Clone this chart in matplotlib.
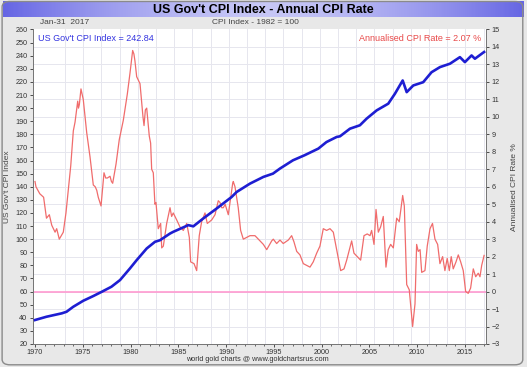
import numpy as np
import matplotlib
matplotlib.use("Agg")
import matplotlib.pyplot as plt
from matplotlib.patches import FancyBboxPatch
from matplotlib.ticker import MultipleLocator

plt.rcParams['font.family'] = ['Liberation Sans', 'DejaVu Sans']

# annual CPI rate (%)
rate_years = [1970.0, 1970.1, 1970.5, 1970.9, 1971.2, 1971.5, 1971.75, 1972.1, 1972.27, 1972.54,
              1972.96, 1973.24, 1973.59, 1973.74, 1974.01, 1974.19, 1974.4, 1974.47, 1974.55, 1974.64,
              1974.81, 1975.05, 1975.2, 1975.41, 1975.76, 1976.1, 1976.3, 1976.46, 1976.62, 1976.91,
              1977.22, 1977.4, 1977.57, 1977.85, 1978.0, 1978.13, 1978.48, 1978.82, 1979.24, 1979.66,
              1979.94, 1980.22, 1980.35, 1980.46, 1980.64, 1980.99, 1981.3, 1981.41, 1981.55, 1981.69,
              1981.96, 1982.1, 1982.21, 1982.38, 1982.55, 1982.66, 1982.9, 1983.15, 1983.26, 1983.43,
              1983.78, 1984.13, 1984.3, 1984.47, 1984.83, 1985.17, 1985.52, 1985.88, 1986.15, 1986.29,
              1986.64, 1986.92, 1987.19, 1987.44, 1987.79, 1988.03, 1988.49, 1988.84, 1989.18, 1989.36,
              1989.54, 1989.71, 1989.9, 1990.23, 1990.41, 1990.69, 1990.75, 1990.93, 1991.27, 1991.52,
              1991.8, 1992.15, 1992.5, 1993.02, 1993.2, 1993.72, 1993.9, 1994.25, 1994.77, 1994.94,
              1995.29, 1995.64, 1995.98, 1996.51, 1996.86, 1997.1, 1997.39, 1997.73, 1998.08, 1998.43,
              1998.78, 1999.12, 1999.48, 1999.82, 2000.17, 2000.52, 2000.87, 2001.22, 2001.57, 2001.99,
              2002.34, 2002.62, 2003.14, 2003.38, 2003.73, 2004.08, 2004.43, 2004.77, 2005.06, 2005.23,
              2005.48, 2005.69, 2005.93, 2006.17, 2006.45, 2006.73, 2006.97, 2007.22, 2007.5, 2007.85,
              2008.12, 2008.48, 2008.65, 2008.9, 2009.17, 2009.52, 2009.77, 2009.94, 2010.11, 2010.3,
              2010.47, 2010.81, 2011.05, 2011.34, 2011.6, 2011.86, 2012.14, 2012.38, 2012.66, 2012.9,
              2013.14, 2013.36, 2013.56, 2013.77, 2014.06, 2014.3, 2014.55, 2014.82, 2015.07, 2015.34,
              2015.59, 2015.87, 2016.12, 2016.39, 2016.57, 2016.75, 2017.0]
rate_vals = [6.3, 6.0, 5.6, 5.4, 4.2, 4.4, 3.8, 3.4, 3.6, 3.0,
             3.4, 4.5, 6.4, 7.2, 9.2, 9.7, 10.6, 10.9, 10.5, 10.7,
             11.6, 11.0, 10.2, 9.1, 7.7, 6.1, 6.0, 5.8, 5.4, 4.9,
             6.8, 6.5, 6.5, 6.6, 6.3, 6.2, 7.3, 8.7, 9.8, 11.3,
             12.5, 13.8, 13.6, 13.2, 12.3, 11.9, 10.0, 9.5, 10.4, 10.5,
             8.9, 8.5, 7.0, 6.8, 5.0, 5.1, 3.6, 3.9, 2.5, 2.6,
             3.9, 4.8, 4.3, 4.5, 4.1, 3.7, 3.5, 3.9, 3.1, 1.7,
             1.6, 1.2, 3.2, 4.0, 4.5, 3.9, 4.1, 4.4, 5.2, 5.1,
             4.8, 4.8, 5.0, 4.4, 5.1, 6.2, 6.3, 6.0, 4.8, 3.5,
             3.0, 3.1, 3.2, 3.2, 3.1, 2.8, 2.7, 2.4, 2.9, 3.0,
             2.75, 2.95, 2.75, 2.95, 3.2, 2.85, 2.3, 2.1, 1.6, 1.5,
             1.4, 1.7, 2.2, 2.6, 3.6, 3.5, 3.6, 3.4, 2.4, 1.2,
             1.3, 1.8, 2.9, 2.2, 2.0, 1.8, 3.2, 3.3, 3.2, 3.5,
             2.7, 4.7, 3.4, 3.7, 4.3, 1.4, 2.4, 2.7, 2.5, 4.2,
             4.0, 5.5, 4.9, 0.4, 0.1, -2.0, -0.7, 2.7, 2.3, 2.4,
             1.1, 1.2, 2.6, 3.6, 3.9, 3.0, 2.7, 1.6, 2.0, 1.2,
             1.9, 1.2, 2.0, 1.3, 1.7, 2.1, 1.7, 1.2, 0.0, -0.1,
             0.2, 1.3, 0.85, 1.05, 0.85, 1.5, 2.07]

# CPI index (1982 = 100)
cpi_years = [1970.0, 1971.2, 1972.8, 1973.3, 1974.0, 1975.05, 1976.1, 1977.0, 1978.0, 1978.9,
             1979.94, 1980.64, 1981.69, 1982.56, 1983.08, 1984.13, 1984.47, 1986.04, 1986.57, 1987.61,
             1989.01, 1990.58, 1991.1, 1992.5, 1993.9, 1994.9, 1995.64, 1997.0, 1998.2, 1999.65,
             2000.5, 2001.57, 2001.92, 2002.96, 2004.0, 2004.71, 2005.76, 2006.97, 2007.67, 2008.48,
             2008.9, 2009.59, 2010.63, 2011.5, 2012.38, 2013.43, 2014.47, 2014.99, 2015.69, 2016.04,
             2017.0]
cpi_vals = [38.3, 40.8, 43.4, 44.6, 48.4, 53.0, 56.6, 59.9, 63.7, 68.8,
            77.7, 84.0, 92.9, 98.0, 99.2, 104.3, 105.6, 110.7, 109.8, 115.8,
            123.4, 132.2, 136.0, 142.4, 147.5, 150.0, 153.9, 160.2, 164.0, 169.1,
            174.1, 178.0, 178.5, 184.3, 186.9, 192.0, 198.3, 203.4, 211.0, 221.1,
            212.2, 217.3, 219.8, 227.4, 231.3, 233.9, 238.9, 235.1, 240.2, 237.7,
            242.84]

W, H = 527, 367
fig = plt.figure(figsize=(W / 100, H / 100), dpi=100)
fig.patch.set_facecolor('#e8e8e8')

# outer frame
fig.patches.append(FancyBboxPatch((0.004, 0.006), 0.988, 0.99, boxstyle='round,pad=0,rounding_size=0.015',
                                  transform=fig.transFigure, fc='none', ec='#8a8a8a', lw=1.0))

# title bar with gradient
tb = fig.add_axes([0.006, 1 - 17 / H, 0.988, 16 / H])
grad = np.abs(np.linspace(-1, 1, 300)) ** 1.6
cmap = matplotlib.colors.LinearSegmentedColormap.from_list('tb', ['#c6c6f6', '#6666e4'])
tb.imshow(grad[None, :], aspect='auto', cmap=cmap, extent=[0, 1, 0, 1])
tb.set_axis_off()
tb.text(0.5, 0.45, "US Gov't CPI Index - Annual CPI Rate", ha='center', va='center',
        fontsize=9, fontweight='bold', color='black', transform=tb.transAxes)

left, right, top, bottom = 33, 486, 29.5, 344
ax = fig.add_axes([left / W, 1 - bottom / H, (right - left) / W, (bottom - top) / H])
ax2 = ax.twinx()
ax.set_zorder(ax2.get_zorder() + 1)
ax.patch.set_visible(False)
ax2.patch.set_visible(True)
ax2.patch.set_facecolor('white')

ax.set_xlim(1969.79, 2017.2)
ax.set_ylim(20, 260)
ax2.set_ylim(-3, 15)

# grid
for gx in np.arange(1973.14, 2017, 1.905):
    ax2.axvline(gx, color='#e6e6ee', lw=0.7, zorder=0)
for gy in range(-2, 15):
    ax2.axhline(gy, color='#e6e6ee', lw=0.7, zorder=0)

ax2.axhline(0, color='#ff9ad0', lw=1.2, zorder=1)
ax2.plot(rate_years, rate_vals, color='#f06c6c', lw=0.9, zorder=2)
ax.plot(cpi_years, cpi_vals, color='#1e1ed2', lw=1.9, zorder=3)

ax.xaxis.set_minor_locator(MultipleLocator(1))
ax.yaxis.set_major_locator(MultipleLocator(10))
ax2.yaxis.set_major_locator(MultipleLocator(1))
ax.tick_params(axis='y', which='major', labelsize=5.2, length=2.5, width=0.6, pad=1.5, colors='#333333')
ax.tick_params(axis='x', which='major', labelsize=5.2, length=2.5, width=0.6, pad=0.8, colors='#333333')
ax.tick_params(axis='x', which='minor', length=1.5, width=0.5, colors='#333333')
ax2.tick_params(axis='y', labelsize=5.2, length=2.5, width=0.6, pad=1.5, colors='#333333')
ax.set_xticks([1970, 1975, 1980, 1985, 1990, 1995, 2000, 2005, 2010, 2015])
ax.set_xticklabels(['1970', '1975', '1980', '1985', '1990', '1995', '2000', '2005', '2010', '2015'])
for a in (ax, ax2):
    for s in a.spines.values():
        s.set_color('#777777')
        s.set_linewidth(0.7)
    a.spines['top'].set_visible(False)

ax.set_ylabel("US Gov't CPI Index", fontsize=6, color='#444444', labelpad=3)
ax2.set_ylabel("Annualised CPI Rate %", fontsize=6, color='#444444', labelpad=8)

ax.text(0.01, 0.985, "US Gov't CPI Index = 242.84", transform=ax.transAxes, ha='left', va='top',
        fontsize=6.5, color='#3434e0')
ax.text(0.99, 0.985, "Annualised CPI Rate = 2.07 %", transform=ax.transAxes, ha='right', va='top',
        fontsize=6.5, color='#e84848')

fig.text(40 / W, 1 - 23 / H, "Jan-31  2017", fontsize=6, color='#444444', ha='left', va='center')
fig.text(255 / W, 1 - 23 / H, "CPI Index - 1982 = 100", fontsize=6, color='#444444', ha='center', va='center')
fig.text(257 / W, 1 - 359.5 / H, "world gold charts @ www.goldchartsrus.com", fontsize=5.2,
         color='#333333', ha='center', va='center')

fig.savefig('out.png', dpi=100, facecolor=fig.get_facecolor())
